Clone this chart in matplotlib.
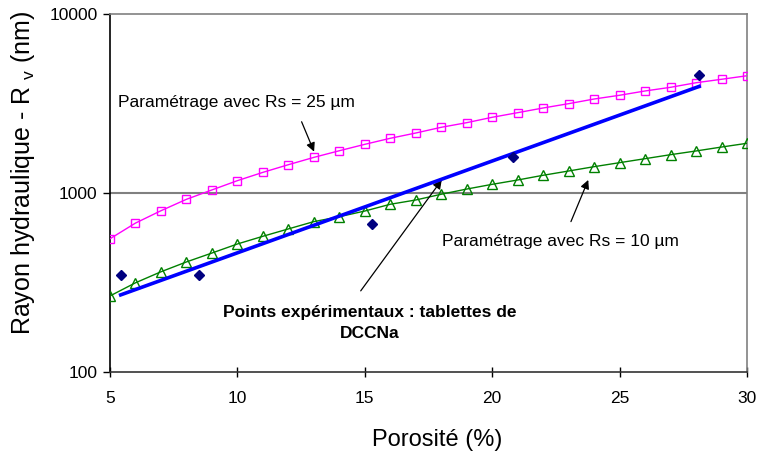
import numpy as np
import matplotlib
matplotlib.use("Agg")
import matplotlib.pyplot as plt

plt.rcParams['font.family'] = ['Liberation Sans', 'DejaVu Sans']

# porosity grid for the two model curves
porosite = list(range(5, 31))
rs25 = [555, 679, 796, 922, 1040, 1172, 1304, 1439, 1581, 1722, 1870, 2021, 2163,
        2328, 2471, 2648, 2810, 2985, 3155, 3350, 3515, 3715, 3894, 4130, 4317, 4519]
rs10 = [266, 315, 363, 412, 462, 519, 573, 630, 692, 737, 793, 865, 914,
        984, 1052, 1118, 1182, 1256, 1327, 1403, 1477, 1555, 1637, 1717, 1806, 1895]

# experimental points (DCCNa tablets)
exp_poro = [5.42, 8.50, 15.28, 20.80, 28.12]
exp_rv = [347, 347, 671, 1596, 4580]

fig = plt.figure(figsize=(7.58, 4.54), dpi=100)
ax = fig.add_axes([0.1451, 0.1806, 0.8404, 0.7886])

ax.axhline(1000, color='#808080', lw=1.5, zorder=1)

ax.plot(porosite, rs25, color='#FF00FF', lw=1, marker='s', ms=6,
        mfc='none', mec='#FF00FF', mew=1, zorder=3)
ax.plot(porosite, rs10, color='#008000', lw=1, marker='^', ms=6.5,
        mfc='none', mec='#008000', mew=1, zorder=3)

# exponential trend line through the experimental points
coef = np.polyfit(exp_poro, np.log10(exp_rv), 1)
xfit = np.array([min(exp_poro), max(exp_poro)])
ax.plot(xfit, 10 ** np.polyval(coef, xfit), color='#0000FF', lw=2.6, zorder=4)

ax.plot(exp_poro, exp_rv, linestyle='none', marker='D', ms=5, color='#000080', zorder=5)

ax.set_yscale('log')
ax.set_xlim(5, 30)
ax.set_ylim(100, 10000)
ax.set_xticks([5, 10, 15, 20, 25, 30])
ax.set_yticks([100, 1000, 10000])
ax.set_yticklabels(['100', '1000', '10000'])
ax.yaxis.set_minor_locator(matplotlib.ticker.NullLocator())
ax.tick_params(axis='both', labelsize=12.5, colors='black')
ax.tick_params(axis='y', direction='out', length=5, width=1, pad=4)
ax.tick_params(axis='x', direction='inout', length=7, width=1, pad=10)

ax.spines['left'].set_color('black')
ax.spines['bottom'].set_color('#333333')
ax.spines['top'].set_color('#808080')
ax.spines['right'].set_color('#808080')
for s in ax.spines.values():
    s.set_linewidth(1.2)

ax.set_xlabel('Porosité (%)', fontsize=17)
ax.set_ylabel('Rayon hydraulique - R $_\\mathregular{v}$ (nm)', fontsize=18)
ax.xaxis.set_label_coords(0.513, -0.158)
ax.yaxis.set_label_coords(-0.114, 0.557)

arrow = dict(arrowstyle='-|>', color='black', lw=0.9, mutation_scale=13, shrinkA=0, shrinkB=0)
ax.text(5.31, 3184, 'Paramétrage avec Rs = 25 µm', fontsize=12.5, va='center', ha='left')
ax.annotate('', xy=(13.01, 1702), xytext=(12.52, 2500), arrowprops=arrow)

ax.text(18.02, 535, 'Paramétrage avec Rs = 10 µm', fontsize=12.5, va='center', ha='left')
ax.annotate('', xy=(23.77, 1183), xytext=(23.09, 692), arrowprops=arrow)

ax.text(15.2, 188, 'Points expérimentaux : tablettes de\nDCCNa', fontsize=12.5,
        fontweight='bold', va='center', ha='center', multialignment='center',
        linespacing=1.45)
ax.annotate('', xy=(18.02, 1183), xytext=(14.84, 284), arrowprops=arrow)

fig.savefig('out.png', dpi=100)
